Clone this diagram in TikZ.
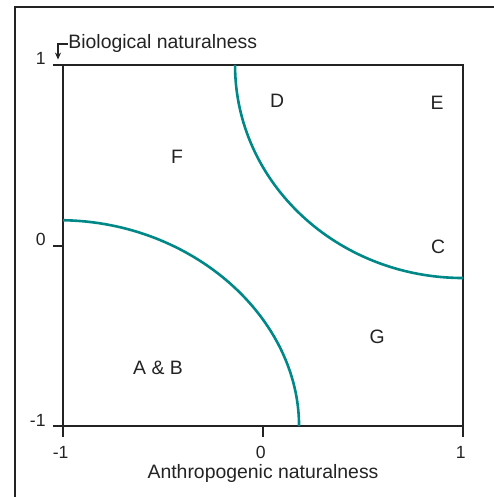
\documentclass[tikz,border=0pt]{standalone}
\usepackage{fontspec}
\setmainfont{Liberation Sans}
\usetikzlibrary{arrows.meta}
\definecolor{curveteal}{RGB}{0,136,136}
\definecolor{axisgray}{RGB}{35,35,35}

\begin{document}
\begin{tikzpicture}[x=100pt, y=90.25pt,
    font=\fontsize{9.7}{11}\selectfont,
    frame/.style={draw=axisgray, line width=0.7pt},
    plotbox/.style={draw=axisgray, line width=1pt},
    boundary/.style={draw=curveteal, line width=1.3pt},
    region/.style={text=axisgray, inner sep=0pt},
    ticklabel/.style={text=axisgray, inner sep=0pt, font=\fontsize{8.8}{10}\selectfont},
    axislabel/.style={text=axisgray, inner sep=0pt},
    arrow/.style={-{Stealth[length=3.5pt, width=3pt]}, line width=0.6pt, draw=axisgray}
]
\useasboundingbox (-1.315,-1.393) rectangle (1.15,1.360);

% outer frame and plot box
\draw[frame] (-1.24,-1.45) -- (-1.24,1.321) -- (1.2,1.321);
\draw[plotbox] (-1,-1) rectangle (1,1);

% ticks and their labels
\foreach \v in {-1,0,1} {
  \draw[plotbox] (-1.05,\v) -- (-1,\v);
  \draw[plotbox] (\v,-1) -- (\v,-1.061);
  \node[ticklabel, anchor=base east] (yl\v) at (-1.085,\v) {\v};
  \node[ticklabel, anchor=north] (xl\v) at (\v-0.012,-1.110) {\v};
}

% axis titles
\node[axislabel, anchor=base west] (bio) at (-0.975,1.089) {Biological naturalness};
\coordinate (bioarrow) at (-1.025,1.030);
\draw[arrow] (bio.west) -| (bioarrow);
\node[axislabel, anchor=base] (anthro) at (0,-1.288) {Anthropogenic naturalness};

% boundaries between the regions
\draw[boundary] (-1,0.14) .. controls (-0.35,0.13) and (0.18,-0.4) .. (0.18,-1);
\draw[boundary] (-0.14,1) arc[start angle=180, end angle=270, x radius=1.14, y radius=1.18];

% region letters
\node[region] (regD) at (0.07,0.80) {D};
\node[region] (regE) at (0.87,0.79) {E};
\node[region] (regF) at (-0.43,0.49) {F};
\node[region] (regC) at (0.875,-0.008) {C};
\node[region] (regG) at (0.57,-0.507) {G};
\node[region] (regAB) at (-0.525,-0.68) {A \& B};

\end{tikzpicture}
\end{document}
